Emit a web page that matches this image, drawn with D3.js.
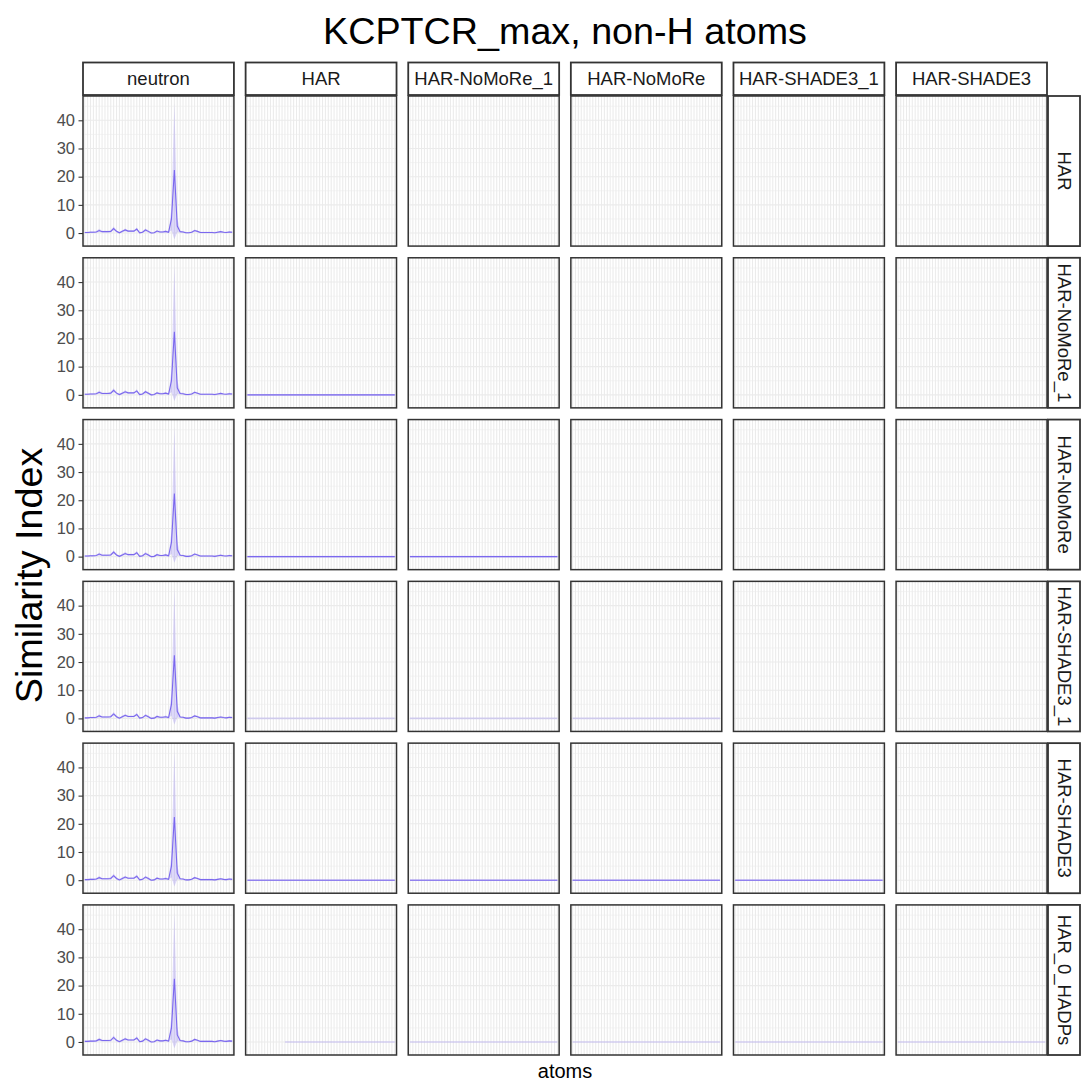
<!DOCTYPE html>
<html>
<head>
<meta charset="utf-8">
<script src="https://cdn.jsdelivr.net/npm/d3@7"></script>
<style>
  body { margin: 0; background: #fff; }
  svg { display: block; }
  text { font-family: "Liberation Sans", Arial, Helvetica, sans-serif; }
</style>
</head>
<body>
<svg id="chart" width="1082" height="1083"></svg>
<script>
// ---- data ---------------------------------------------------------------
const title = "KCPTCR_max, non-H atoms";
const xTitle = "atoms";
const yTitle = "Similarity Index";

// facet rows (reference model) and columns (compared model)
const rowModels = ["HAR", "HAR-NoMoRe_1", "HAR-NoMoRe", "HAR-SHADE3_1", "HAR-SHADE3", "HAR_0_HADPs"];
const colModels = ["neutron", "HAR", "HAR-NoMoRe_1", "HAR-NoMoRe", "HAR-SHADE3_1", "HAR-SHADE3"];

// 52 non-H atoms, in structure order (labels are not printed on the axis)
const atoms = d3.range(1, 53);

const yTicks = [0, 10, 20, 30, 40];

// similarity index against the neutron model: mean and band
const neutronMean = [0.2, 0.2, 0.3, 0.3, 0.4, 0.9, 0.5, 0.5, 0.5, 0.6,
                     1.6, 0.6, 0.1, 0.6, 1.1, 0.7, 0.7, 0.7, 1.4, 0.1,
                     0.3, 1.1, 0.6, 0.0, 0.1, 0.7, 0.4, 0.4, 0.6, 0.3,
                     5.0, 22.4, 2.5, 0.5, 0.4, 0.1, 0.1, 0.3, 0.9, 0.6,
                     0.2, 0.2, 0.2, 0.2, 0.2, 0.1, 0.3, 0.5, 0.3, 0.2, 0.4, 0.3];
const neutronLo = [-0.1, -0.1, 0.0, 0.0, 0.1, 0.4, 0.2, 0.2, 0.2, 0.2,
                   1.0, 0.2, -0.2, 0.2, 0.6, 0.4, 0.4, 0.4, 0.9, -0.2,
                   0.0, 0.6, 0.2, -0.3, -0.2, 0.3, 0.1, 0.1, 0.2, 0.0,
                   1.0, -2.2, 0.3, 0.2, 0.1, -0.2, -0.2, 0.0, 0.5, 0.3,
                   -0.1, -0.1, -0.1, -0.1, -0.1, -0.2, 0.0, 0.2, 0.0, -0.1, 0.1, 0.0];
const neutronHi = [0.5, 0.5, 0.6, 0.6, 0.7, 1.5, 0.8, 0.8, 0.8, 1.0,
                   2.3, 1.0, 0.4, 1.0, 1.6, 1.0, 1.0, 1.0, 2.0, 0.4,
                   0.6, 1.6, 1.0, 0.3, 0.4, 1.1, 0.7, 0.7, 1.0, 0.6,
                   9.0, 46.2, 5.5, 0.8, 0.7, 0.4, 0.4, 0.6, 1.3, 0.9,
                   0.5, 0.5, 0.5, 0.5, 0.5, 0.4, 0.6, 0.8, 0.6, 0.5, 0.7, 0.6];

// between two HAR-type models the index is zero at every atom
const flatMean = [0, 0, 0, 0, 0, 0, 0, 0, 0, 0, 0, 0, 0, 0, 0, 0, 0, 0, 0, 0, 0, 0, 0, 0, 0, 0,
                  0, 0, 0, 0, 0, 0, 0, 0, 0, 0, 0, 0, 0, 0, 0, 0, 0, 0, 0, 0, 0, 0, 0, 0, 0, 0];
const flatLo = [-0.3, -0.3, -0.3, -0.3, -0.3, -0.3, -0.3, -0.3, -0.3, -0.3, -0.3, -0.3, -0.3,
                -0.3, -0.3, -0.3, -0.3, -0.3, -0.3, -0.3, -0.3, -0.3, -0.3, -0.3, -0.3, -0.3,
                -0.3, -0.3, -0.3, -0.3, -0.3, -0.3, -0.3, -0.3, -0.3, -0.3, -0.3, -0.3, -0.3,
                -0.3, -0.3, -0.3, -0.3, -0.3, -0.3, -0.3, -0.3, -0.3, -0.3, -0.3, -0.3, -0.3];
const flatHi = [0.3, 0.3, 0.3, 0.3, 0.3, 0.3, 0.3, 0.3, 0.3, 0.3, 0.3, 0.3, 0.3,
                0.3, 0.3, 0.3, 0.3, 0.3, 0.3, 0.3, 0.3, 0.3, 0.3, 0.3, 0.3, 0.3,
                0.3, 0.3, 0.3, 0.3, 0.3, 0.3, 0.3, 0.3, 0.3, 0.3, 0.3, 0.3, 0.3,
                0.3, 0.3, 0.3, 0.3, 0.3, 0.3, 0.3, 0.3, 0.3, 0.3, 0.3, 0.3, 0.3];
// HAR_0_HADPs vs HAR: the first 13 atoms have no value
const partialLo = [null, null, null, null, null, null, null, null, null, null, null, null, null,
                   -0.3, -0.3, -0.3, -0.3, -0.3, -0.3, -0.3, -0.3, -0.3, -0.3, -0.3, -0.3, -0.3,
                   -0.3, -0.3, -0.3, -0.3, -0.3, -0.3, -0.3, -0.3, -0.3, -0.3, -0.3, -0.3, -0.3,
                   -0.3, -0.3, -0.3, -0.3, -0.3, -0.3, -0.3, -0.3, -0.3, -0.3, -0.3, -0.3, -0.3];
const partialHi = [null, null, null, null, null, null, null, null, null, null, null, null, null,
                   0.3, 0.3, 0.3, 0.3, 0.3, 0.3, 0.3, 0.3, 0.3, 0.3, 0.3, 0.3, 0.3,
                   0.3, 0.3, 0.3, 0.3, 0.3, 0.3, 0.3, 0.3, 0.3, 0.3, 0.3, 0.3, 0.3,
                   0.3, 0.3, 0.3, 0.3, 0.3, 0.3, 0.3, 0.3, 0.3, 0.3, 0.3, 0.3, 0.3];

// which panel holds which series; mean = null means only the band exists
const panels = [
  ...rowModels.map(r => ({ row: r, col: "neutron", mean: neutronMean, lo: neutronLo, hi: neutronHi })),
  { row: "HAR-NoMoRe_1", col: "HAR", mean: flatMean, lo: flatLo, hi: flatHi },
  { row: "HAR-NoMoRe", col: "HAR", mean: flatMean, lo: flatLo, hi: flatHi },
  { row: "HAR-NoMoRe", col: "HAR-NoMoRe_1", mean: flatMean, lo: flatLo, hi: flatHi },
  { row: "HAR-SHADE3_1", col: "HAR", mean: null, lo: flatLo, hi: flatHi },
  { row: "HAR-SHADE3_1", col: "HAR-NoMoRe_1", mean: null, lo: flatLo, hi: flatHi },
  { row: "HAR-SHADE3_1", col: "HAR-NoMoRe", mean: null, lo: flatLo, hi: flatHi },
  { row: "HAR-SHADE3", col: "HAR", mean: flatMean, lo: flatLo, hi: flatHi },
  { row: "HAR-SHADE3", col: "HAR-NoMoRe_1", mean: flatMean, lo: flatLo, hi: flatHi },
  { row: "HAR-SHADE3", col: "HAR-NoMoRe", mean: flatMean, lo: flatLo, hi: flatHi },
  { row: "HAR-SHADE3", col: "HAR-SHADE3_1", mean: flatMean, lo: flatLo, hi: flatHi },
  { row: "HAR_0_HADPs", col: "HAR", mean: null, lo: partialLo, hi: partialHi },
  { row: "HAR_0_HADPs", col: "HAR-NoMoRe_1", mean: null, lo: flatLo, hi: flatHi },
  { row: "HAR_0_HADPs", col: "HAR-NoMoRe", mean: null, lo: flatLo, hi: flatHi },
  { row: "HAR_0_HADPs", col: "HAR-SHADE3_1", mean: null, lo: flatLo, hi: flatHi },
  { row: "HAR_0_HADPs", col: "HAR-SHADE3", mean: null, lo: flatLo, hi: flatHi }
];

// ---- layout -------------------------------------------------------------
const plotL = 83, plotR = 1047, plotT = 96, plotB = 1055, gap = 11.7;
const pw = (plotR - plotL - 5 * gap) / 6;
const ph = (plotB - plotT - 5 * gap) / 6;
const stripTopY = 62.5, stripTopH = 32.5;
const stripRightX = 1048, stripRightW = 32;

const lineColor = "#7b68ee";
const bandColor = "#7b68ee";
const gridColor = "#ebebeb";
const frameColor = "#333333";

const svg = d3.select("#chart");
svg.append("rect").attr("width", 1082).attr("height", 1083).attr("fill", "#fff");

// shared scales (fixed across facets)
const x = d3.scalePoint().domain(atoms).range([0, pw]).padding(0.6);
const allLo = d3.min(panels, p => d3.min(p.lo));
const allHi = d3.max(panels, p => d3.max(p.hi));
const span = allHi - allLo;
const y = d3.scaleLinear().domain([allLo - 0.05 * span, allHi + 0.05 * span]).range([ph, 0]);
const minorTicks = d3.range(5, 50, 10).filter(v => v <= y.domain()[1]);

const colX = c => plotL + colModels.indexOf(c) * (pw + gap);
const rowY = r => plotT + rowModels.indexOf(r) * (ph + gap);

const area = d3.area()
  .defined(d => d.lo != null)
  .x(d => x(d.atom))
  .y0(d => y(d.lo))
  .y1(d => y(d.hi));
const line = d3.line()
  .defined(d => d.mean != null)
  .x(d => x(d.atom))
  .y(d => y(d.mean));

// ---- panels -------------------------------------------------------------
rowModels.forEach(r => {
  colModels.forEach(c => {
    const g = svg.append("g").attr("transform", `translate(${colX(c)},${rowY(r)})`);
    g.append("rect").attr("width", pw).attr("height", ph).attr("fill", "#fff");

    g.selectAll("line.minor").data(minorTicks).join("line")
      .attr("x1", 0).attr("x2", pw)
      .attr("y1", d => y(d)).attr("y2", d => y(d))
      .attr("stroke", gridColor).attr("stroke-width", 0.55);
    g.selectAll("line.major").data(yTicks).join("line")
      .attr("x1", 0).attr("x2", pw)
      .attr("y1", d => y(d)).attr("y2", d => y(d))
      .attr("stroke", gridColor).attr("stroke-width", 1.07);
    g.selectAll("line.vert").data(atoms).join("line")
      .attr("x1", d => x(d)).attr("x2", d => x(d))
      .attr("y1", 0).attr("y2", ph)
      .attr("stroke", gridColor).attr("stroke-width", 1.07);

    const p = panels.find(q => q.row === r && q.col === c);
    if (p) {
      const pts = atoms.map((a, i) => ({
        atom: a,
        lo: p.lo[i], hi: p.hi[i],
        mean: p.mean ? p.mean[i] : null
      }));
      g.append("path").datum(pts).attr("d", area)
        .attr("fill", bandColor).attr("fill-opacity", 0.25);
      if (p.mean) {
        g.append("path").datum(pts).attr("d", line)
          .attr("fill", "none").attr("stroke", lineColor).attr("stroke-width", 1.1);
      }
    }

    g.append("rect").attr("width", pw).attr("height", ph)
      .attr("fill", "none").attr("stroke", frameColor).attr("stroke-width", 1.5);
  });
});

// ---- strips -------------------------------------------------------------
colModels.forEach(c => {
  const g = svg.append("g").attr("transform", `translate(${colX(c)},${stripTopY})`);
  g.append("rect").attr("width", pw).attr("height", stripTopH)
    .attr("fill", "#fff").attr("stroke", frameColor).attr("stroke-width", 1.8);
  g.append("text").attr("x", pw / 2).attr("y", stripTopH / 2)
    .attr("text-anchor", "middle").attr("dominant-baseline", "central")
    .attr("font-size", 18.5).attr("fill", "#1a1a1a").text(c);
});
rowModels.forEach(r => {
  const g = svg.append("g").attr("transform", `translate(${stripRightX},${rowY(r)})`);
  g.append("rect").attr("width", stripRightW).attr("height", ph)
    .attr("fill", "#fff").attr("stroke", frameColor).attr("stroke-width", 1.8);
  g.append("text")
    .attr("transform", `translate(${stripRightW / 2},${ph / 2}) rotate(90)`)
    .attr("text-anchor", "middle").attr("dominant-baseline", "central")
    .attr("font-size", 18.5).attr("fill", "#1a1a1a").text(r);
});

// ---- y axes on the left column -------------------------------------------
rowModels.forEach(r => {
  const g = svg.append("g").attr("transform", `translate(${plotL},${rowY(r)})`);
  const ax = d3.axisLeft(y).tickValues(yTicks).tickSize(4.5).tickPadding(3.5).tickFormat(d3.format("d"));
  g.call(ax);
  g.select(".domain").remove();
  g.selectAll(".tick line").attr("stroke", frameColor).attr("stroke-width", 1.07);
  g.selectAll(".tick text").attr("fill", "#4d4d4d").attr("font-size", 16.5)
    .attr("font-family", "\"Liberation Sans\", Arial, sans-serif");
});

// ---- titles -------------------------------------------------------------
svg.append("text").attr("x", (plotL + plotR) / 2).attr("y", 44)
  .attr("text-anchor", "middle").attr("font-size", 37.7).attr("fill", "#000").text(title);
svg.append("text").attr("x", (plotL + plotR) / 2).attr("y", 1078)
  .attr("text-anchor", "middle").attr("font-size", 20).attr("fill", "#000").text(xTitle);
svg.append("text")
  .attr("transform", `translate(42,${(plotT + plotB) / 2}) rotate(-90)`)
  .attr("text-anchor", "middle").attr("font-size", 37.7).attr("fill", "#000").text(yTitle);
</script>
</body>
</html>
